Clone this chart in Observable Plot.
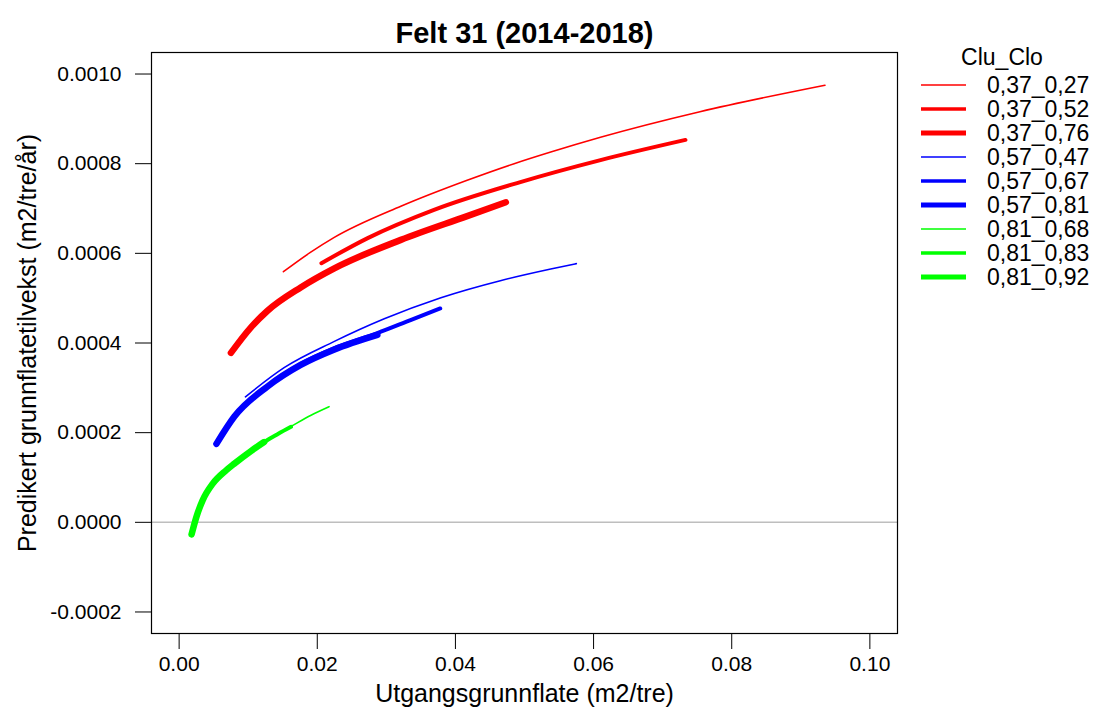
<!DOCTYPE html>
<html><head><meta charset="utf-8">
<script src="https://cdn.jsdelivr.net/npm/d3@7"></script>
<script src="https://cdn.jsdelivr.net/npm/@observablehq/plot@0.6"></script>
<style>
body{margin:0;background:#fff;}
#wrap{position:relative;width:1100px;height:715px;font-family:"Liberation Sans",Arial,sans-serif;overflow:hidden;}
#legend{position:absolute;left:0;top:0;}
</style>
</head><body><div id="wrap"></div>
<script>
const title = "Felt 31 (2014-2018)";
const xLabel = "Utgangsgrunnflate (m2/tre)";
const yLabel = "Predikert grunnflatetilvekst (m2/tre/år)";
const legendTitle = "Clu_Clo";
const groups = ["0,37_0,27","0,37_0,52","0,37_0,76","0,57_0,47","0,57_0,67","0,57_0,81","0,81_0,68","0,81_0,83","0,81_0,92"];
const colors = ["#FF0000","#FF0000","#FF0000","#0000FF","#0000FF","#0000FF","#00FF00","#00FF00","#00FF00"];
const widths = [1.6, 4, 6.5, 1.6, 4, 6.5, 1.6, 4, 6.5];
const legendWidths = [1.6, 3.5, 5, 1.6, 3.5, 5, 1.6, 3.5, 5];
const xTicks = [0, 0.02, 0.04, 0.06, 0.08, 0.10];
const yTicks = [-0.0002, 0, 0.0002, 0.0004, 0.0006, 0.0008, 0.0010];

// series values
const x_37_27 = [0.0151, 0.0190, 0.0224, 0.0321, 0.0417, 0.0485, 0.0538, 0.0610, 0.0754, 0.0935];
const y_37_27 = [0.000559, 0.000602, 0.000635, 0.000705, 0.000763, 0.000800, 0.000826, 0.000859, 0.000916, 0.000975];
const x_37_52 = [0.0206, 0.0273, 0.0369, 0.0494, 0.0610, 0.0733];
const y_37_52 = [0.000578, 0.000634, 0.000697, 0.000759, 0.000808, 0.000853];
const x_37_76 = [0.0075, 0.0104, 0.0128, 0.0176, 0.0224, 0.0321, 0.0417, 0.0473];
const y_37_76 = [0.000378, 0.000435, 0.000472, 0.000524, 0.000566, 0.000630, 0.000683, 0.000714];
const x_57_47 = [0.0096, 0.0152, 0.0224, 0.0297, 0.0379, 0.0465, 0.0538, 0.0575];
const y_57_47 = [0.000280, 0.000345, 0.000403, 0.000454, 0.000501, 0.000539, 0.000565, 0.000577];
const x_57_67 = [0.0104, 0.0128, 0.0176, 0.0224, 0.0287, 0.0335, 0.0378];
const y_57_67 = [0.000273, 0.000304, 0.000353, 0.000388, 0.000422, 0.000451, 0.000477];
const x_57_81 = [0.0054, 0.0080, 0.0128, 0.0176, 0.0224, 0.0287];
const y_57_81 = [0.000175, 0.000236, 0.000303, 0.000351, 0.000385, 0.000418];
const x_81_68 = [0.0104, 0.0123, 0.0162, 0.0191, 0.0217];
const y_81_68 = [0.000160, 0.000180, 0.000214, 0.000239, 0.000258];
const x_81_83 = [0.0049, 0.0068, 0.0080, 0.0104, 0.0123, 0.0143, 0.0162];
const y_81_83 = [0.000087, 0.000116, 0.000131, 0.000159, 0.000179, 0.000197, 0.000213];
const x_81_92 = [0.0018, 0.0025, 0.0034, 0.0049, 0.0068, 0.0080, 0.0104, 0.0123];
const y_81_92 = [-0.000027, 0.000012, 0.000049, 0.000087, 0.000116, 0.000131, 0.000159, 0.000179];

const seriesX = [x_37_27, x_37_52, x_37_76, x_57_47, x_57_67, x_57_81, x_81_68, x_81_83, x_81_92];
const seriesY = [y_37_27, y_37_52, y_37_76, y_57_47, y_57_67, y_57_81, y_81_68, y_81_83, y_81_92];

const series = groups.map((g, i) => seriesX[i].map((x, j) => ({g, x, y: seriesY[i][j]})));

const fmtY = d => d.toFixed(4);
const fmtX = d => d.toFixed(2);

const chart = Plot.plot({
  width: 1100, height: 715,
  marginLeft: 151, marginRight: 203, marginTop: 52, marginBottom: 82,
  style: {fontFamily: '"Liberation Sans", Arial, sans-serif', color: "black", background: "white"},
  x: {domain: [-0.004, 0.104]},
  y: {domain: [-0.000248, 0.001048]},
  marks: [
    Plot.ruleY([0], {stroke: "#bebebe", strokeWidth: 1.5}),
    ...series.map((d, i) => Plot.line(d, {x: "x", y: "y", stroke: colors[i], strokeWidth: widths[i], curve: "monotone-x"})),
    Plot.frame({stroke: "black", strokeWidth: 1.2}),
    Plot.axisX({ticks: xTicks, tickFormat: fmtX, tickSize: 16, tickPadding: 7, fontSize: 21, label: null, stroke: "black"}),
    Plot.axisY({ticks: yTicks, tickFormat: fmtY, tickSize: 16, tickPadding: 14, fontSize: 21, label: null, stroke: "black"}),
    Plot.text([title], {frameAnchor: "top", lineAnchor: "bottom", dy: -10, fontSize: 29, fontWeight: "bold", fill: "black"}),
    Plot.text([xLabel], {frameAnchor: "bottom", dy: 68, fontSize: 25, fill: "black"}),
    Plot.text([yLabel], {frameAnchor: "left", textAnchor: "middle", dx: -124, rotate: -90, fontSize: 25, fill: "black"})
  ]
});
const wrap = document.getElementById("wrap");
wrap.appendChild(chart);

// legend
const lg = d3.select(wrap).append("svg").attr("id", "legend").attr("width", 1100).attr("height", 715)
  .style("font-family", '"Liberation Sans", Arial, sans-serif');
lg.append("text").attr("x", 1002).attr("y", 57).attr("dy", "0.35em").attr("text-anchor", "middle")
  .attr("font-size", 23).text(legendTitle);
groups.forEach((g, i) => {
  const yy = 85 + i * 24;
  lg.append("line").attr("x1", 921).attr("x2", 966).attr("y1", yy).attr("y2", yy)
    .attr("stroke", colors[i]).attr("stroke-width", legendWidths[i]);
  lg.append("text").attr("x", 987).attr("y", yy).attr("dy", "0.35em").attr("font-size", 23).text(g);
});
</script></body></html>
